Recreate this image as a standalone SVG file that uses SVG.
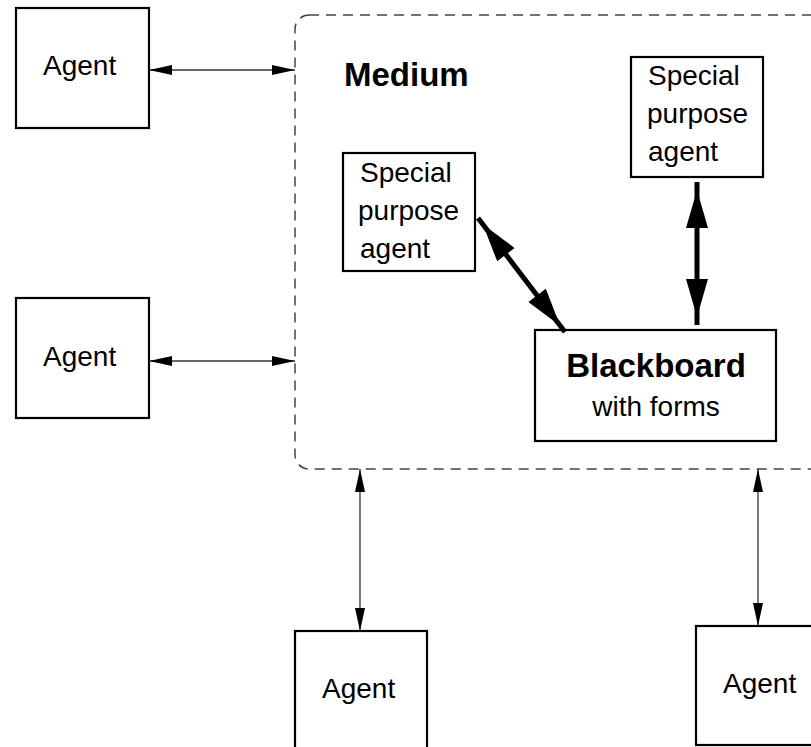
<svg xmlns="http://www.w3.org/2000/svg" width="811" height="747" viewBox="0 0 811 747">
  <style>
    .box { fill: #ffffff; stroke: #000000; stroke-width: 2.2; }
    .medium { fill: none; stroke: #444444; stroke-width: 1.5; stroke-dasharray: 10 7; }
    .txt { font-family: "Liberation Sans", Arial, sans-serif; font-size: 28px; fill: #000000; }
    .bold { font-family: "Liberation Sans", Arial, sans-serif; font-size: 33px; font-weight: bold; fill: #000000; }
    .thin { fill: none; stroke: #333333; stroke-width: 1.3; marker-start: url(#thinHead); marker-end: url(#thinHead); }
    .thick { fill: none; stroke: #000000; stroke-width: 5; marker-start: url(#thickHead); marker-end: url(#thickHead); }
  </style>
  <defs>
    <marker id="thinHead" markerUnits="userSpaceOnUse" viewBox="0 0 23 10" refX="23" refY="5" markerWidth="23" markerHeight="10" orient="auto-start-reverse">
      <path d="M0,0 L23,5 L0,10 z" fill="#000000"/>
    </marker>
    <marker id="thickHead" markerUnits="userSpaceOnUse" viewBox="0 0 48 22" refX="48" refY="11" markerWidth="48" markerHeight="22" orient="auto-start-reverse">
      <path d="M2,0 L40,11 L2,22 z" fill="#000000"/>
    </marker>
  </defs>

  <g id="medium">
    <rect class="medium" x="295" y="15" width="600" height="454" rx="14" ry="14"/>
    <text class="bold" x="344" y="86">Medium</text>
  </g>

  <g id="agent-top-left">
    <rect class="box" x="16" y="8" width="133" height="120"/>
    <text class="txt" x="43" y="75">Agent</text>
  </g>

  <g id="agent-mid-left">
    <rect class="box" x="16" y="298" width="133" height="120"/>
    <text class="txt" x="43" y="366">Agent</text>
  </g>

  <g id="agent-bottom-left">
    <rect class="box" x="295" y="631" width="132" height="140"/>
    <text class="txt" x="322" y="698">Agent</text>
  </g>

  <g id="agent-bottom-right">
    <rect class="box" x="696" y="626" width="132" height="119"/>
    <text class="txt" x="723" y="693">Agent</text>
  </g>

  <g id="special-agent-left">
    <rect class="box" x="343" y="153" width="132" height="118"/>
    <text class="txt" x="360" y="182">Special</text>
    <text class="txt" x="358" y="220">purpose</text>
    <text class="txt" x="360" y="258">agent</text>
  </g>

  <g id="special-agent-right">
    <rect class="box" x="631" y="57" width="132" height="120"/>
    <text class="txt" x="648" y="85">Special</text>
    <text class="txt" x="647" y="123">purpose</text>
    <text class="txt" x="648" y="161">agent</text>
  </g>

  <g id="blackboard">
    <rect class="box" x="535" y="330" width="241" height="111"/>
    <text class="bold" x="656" y="377" text-anchor="middle">Blackboard</text>
    <text class="txt" x="656" y="416" text-anchor="middle">with forms</text>
  </g>

  <g id="connectors">
    <path class="thin" d="M149,70 L295,70"/>
    <path class="thin" d="M149,361 L295,361"/>
    <path class="thin" d="M360,469 L360,631"/>
    <path class="thin" d="M758,469 L758,626"/>
    <path class="thick" d="M697,182 L697,325"/>
    <path class="thick" d="M478,218 L565,332"/>
  </g>
</svg>
